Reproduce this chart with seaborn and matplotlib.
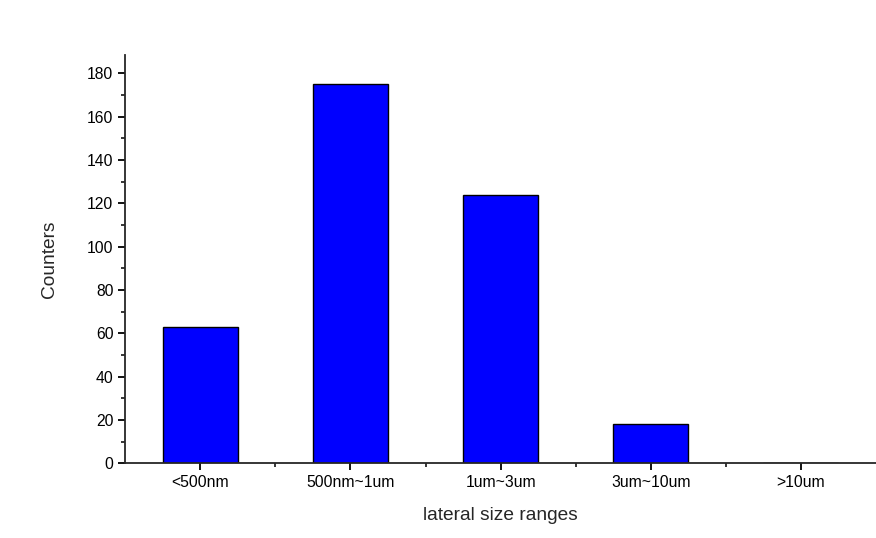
import numpy as np
import pandas as pd
import matplotlib
matplotlib.use('Agg')
import matplotlib.pyplot as plt
import seaborn as sns
from matplotlib.ticker import MultipleLocator

# lateral size distribution
size_ranges = ['<500nm', '500nm~1um', '1um~3um', '3um~10um', '>10um']
counters = [63, 175, 124, 18, 0]

df = pd.DataFrame({'range': size_ranges, 'count': counters})

sns.set_style('ticks')
plt.rcParams['font.family'] = ['Liberation Sans', 'DejaVu Sans']

fig = plt.figure(figsize=(8.76, 5.38), dpi=100)
ax = fig.add_axes([0.143, 0.139, 0.857, 0.759])

sns.barplot(data=df, x='range', y='count', color='#0000FF', edgecolor='black',
            linewidth=1, width=0.5, saturation=1, ax=ax)

ax.set_xlim(-0.5, 4.5)
ax.set_ylim(0, 188.5)
ax.yaxis.set_major_locator(MultipleLocator(20))
ax.yaxis.set_minor_locator(MultipleLocator(10))
ax.set_xticks(np.arange(len(size_ranges)))
ax.set_xticks(np.arange(len(size_ranges) - 1) + 0.5, minor=True)

sns.despine(ax=ax)
for s in ['left', 'bottom']:
    ax.spines[s].set_linewidth(1.3)
ax.tick_params(which='major', direction='out', length=5, width=1.3, labelsize=11.3, colors='black')
ax.tick_params(which='minor', direction='out', length=3, width=1.3)

ax.set_xlabel('lateral size ranges', fontsize=13.8, labelpad=12)
ax.set_ylabel('Counters', fontsize=13.8, labelpad=21)

fig.savefig('out.png', dpi=100)
